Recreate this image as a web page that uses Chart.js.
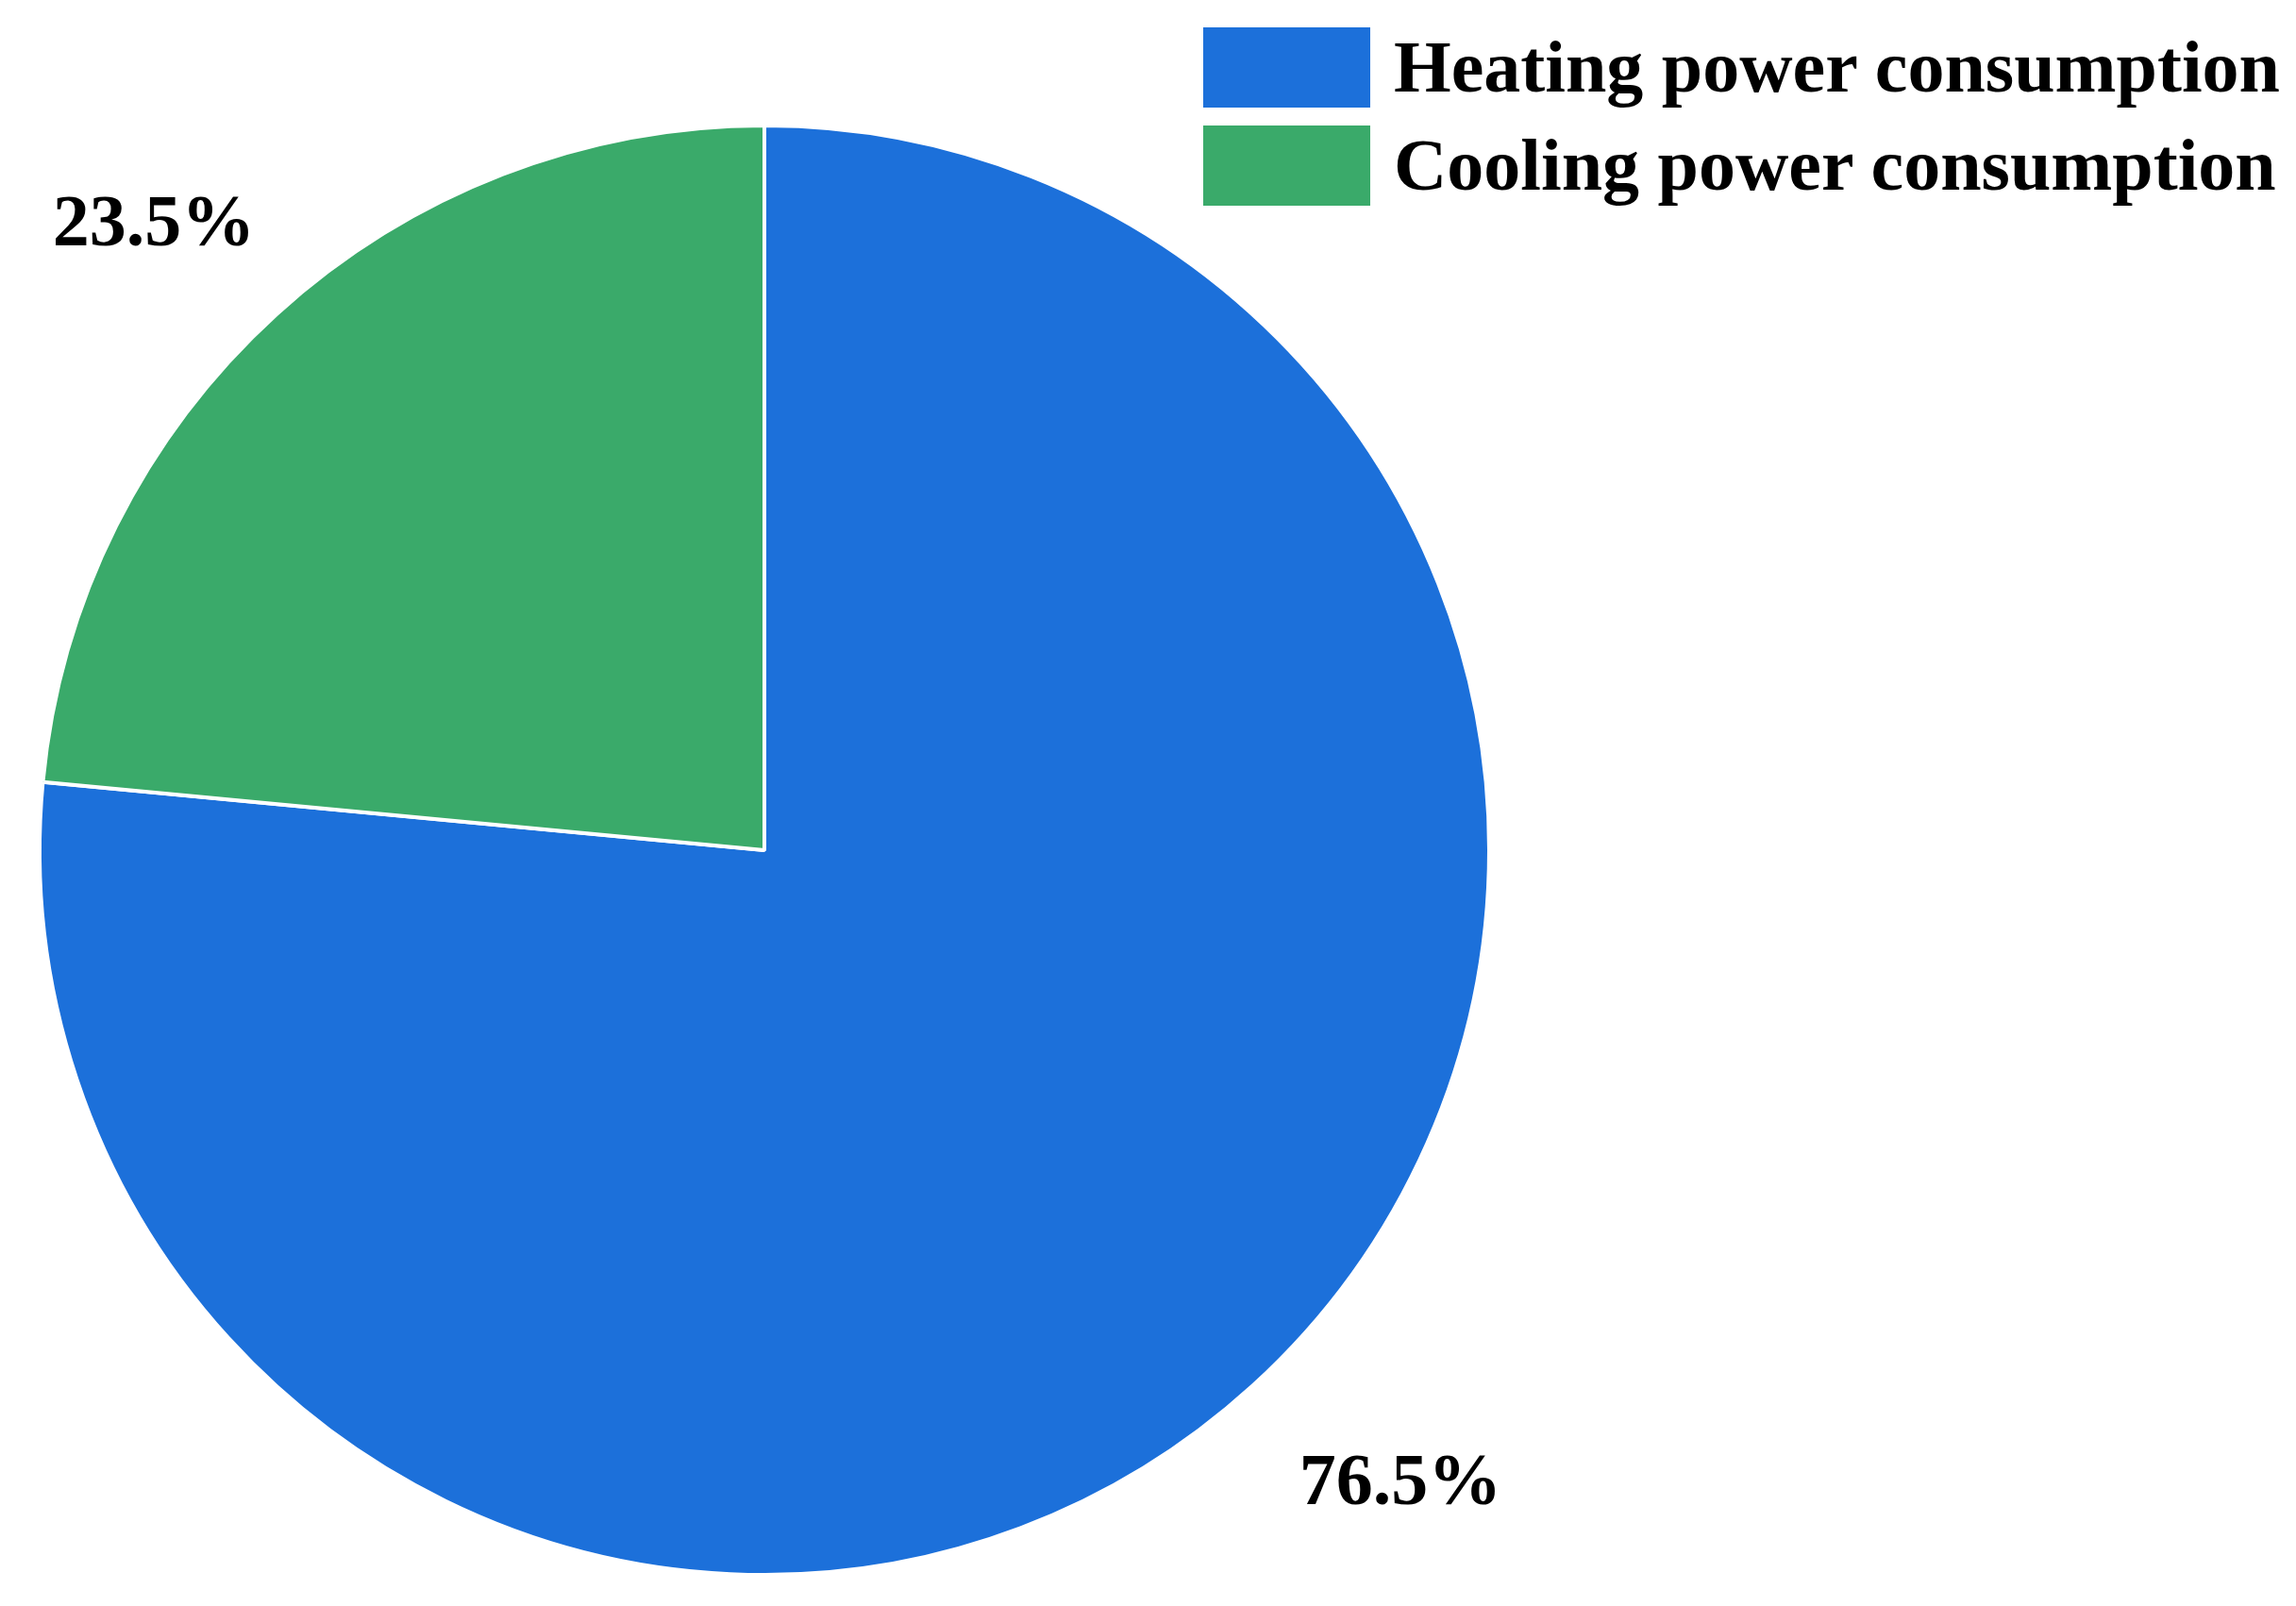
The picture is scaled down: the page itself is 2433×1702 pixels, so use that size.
<!DOCTYPE html>
<html lang="en">
<head>
  <meta charset="UTF-8">
  <title>Power consumption share</title>
  <script src="https://cdn.jsdelivr.net/npm/chart.js"></script>
  <style>
    html, body { margin: 0; padding: 0; background: #fff; }
    #wrap { position: relative; width: 2433px; height: 1702px; }
    #legend { position: absolute; left: 1275px; top: 19px; font-family: "Liberation Serif", "Times New Roman", serif; font-weight: bold; font-size: 78px; color: #000; }
    .item { display: flex; align-items: center; height: 104px; }
    .box { width: 177px; height: 85px; margin-right: 25px; }
  </style>
</head>
<body>
  <div id="wrap">
    <canvas id="chart" width="2433" height="1702"></canvas>
    <div id="legend"></div>
  </div>

  <script>
    const labels = ['Heating power consumption', 'Cooling power consumption'];
    const shares = [76.5, 23.5];
    const colors = ['#1c70da', '#3aaa6a'];

    // legend built from the same arrays
    const legend = document.getElementById('legend');
    labels.forEach((name, i) => {
      const row = document.createElement('div');
      row.className = 'item';
      row.innerHTML = '<div class="box" style="background:' + colors[i] + '"></div><span>' + name + '</span>';
      legend.appendChild(row);
    });

    // percentage text outside each slice
    const outsideLabels = {
      id: 'outsideLabels',
      afterDatasetsDraw(chart, args, opts) {
        const ctx = chart.ctx;
        const meta = chart.getDatasetMeta(0);
        ctx.save();
        ctx.font = 'bold 78px "Liberation Serif", "Times New Roman", serif';
        ctx.fillStyle = '#000';
        ctx.textAlign = 'center';
        ctx.textBaseline = 'middle';
        meta.data.forEach((arc, i) => {
          const p = arc.getProps(['x', 'y', 'startAngle', 'endAngle', 'outerRadius'], true);
          const mid = (p.startAngle + p.endAngle) / 2 - opts.turn[i];
          const r = p.outerRadius * opts.dist[i];
          ctx.fillText(shares[i].toFixed(1) + '%', p.x + Math.cos(mid) * r, p.y + Math.sin(mid) * r);
        });
        ctx.restore();
      }
    };

    new Chart(document.getElementById('chart'), {
      type: 'pie',
      data: {
        labels: labels,
        datasets: [{
          data: shares,
          backgroundColor: colors,
          borderColor: '#ffffff',
          borderWidth: 4
        }]
      },
      options: {
        responsive: false,
        animation: false,
        layout: { padding: { left: 40, top: 131, right: 853, bottom: 31 } },
        plugins: {
          legend: { display: false },
          tooltip: { enabled: false },
          outsideLabels: { dist: [1.24, 1.205], turn: [0.048, 0.036] }
        }
      },
      plugins: [outsideLabels]
    });
  </script>
</body>
</html>
